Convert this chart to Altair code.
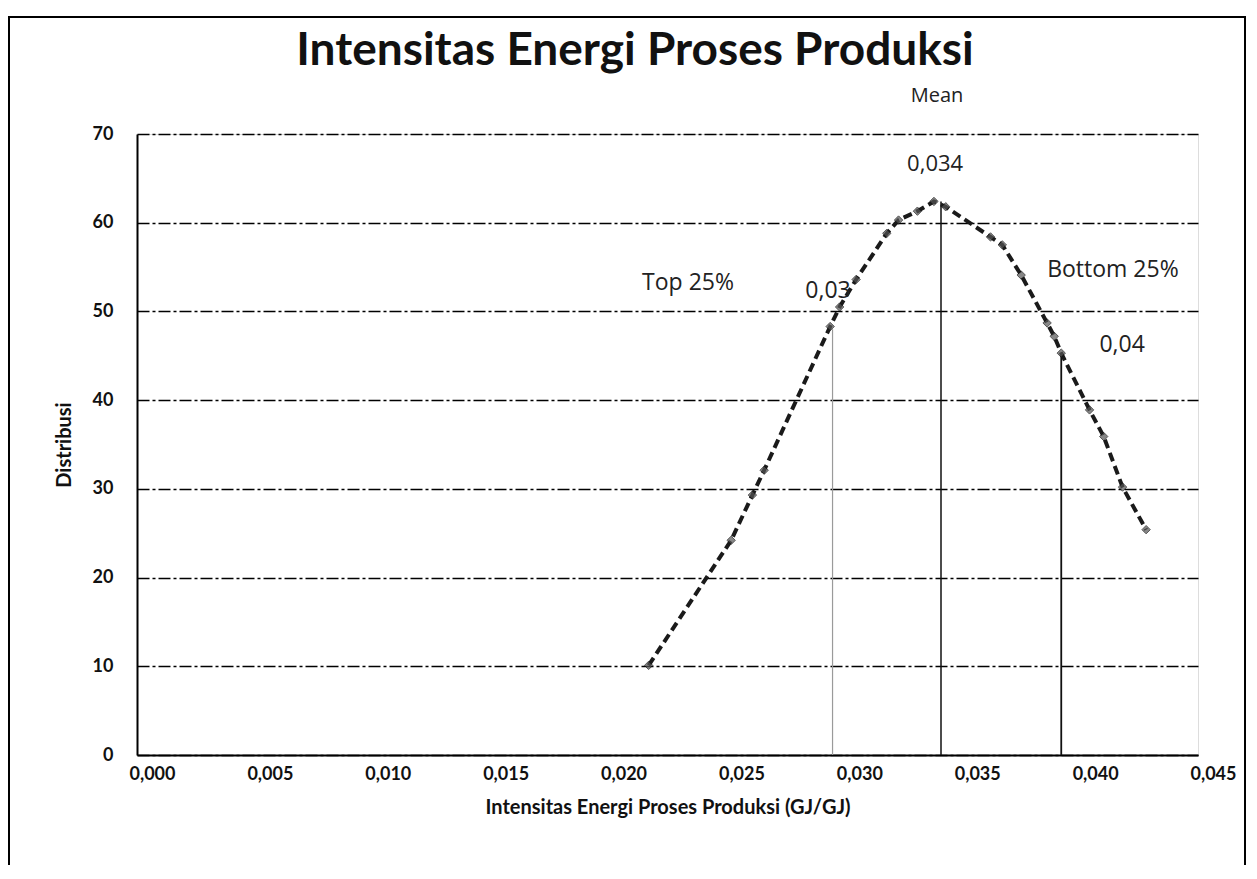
import altair as alt
import pandas as pd

# Curve data
x_vals = [0.0217, 0.0252, 0.0261, 0.0266, 0.0294, 0.0298, 0.0305, 0.0318, 0.0323,
          0.0331, 0.0338, 0.0343, 0.0362, 0.0367, 0.0375, 0.0386, 0.0389, 0.0392,
          0.0404, 0.0410, 0.0418, 0.0428]
y_vals = [10.1, 24.2, 29.3, 32.1, 48.3, 50.5, 53.6, 58.8, 60.3,
          61.3, 62.4, 61.8, 58.4, 57.5, 54.1, 48.7, 47.2, 45.3,
          38.9, 35.9, 30.2, 25.4]

# Drop lines (Top 25%, Mean, Bottom 25%)
drop_x = [0.0295, 0.0341, 0.0392]
drop_top = [48.0, 62.4, 45.3]
drop_kind = ["q1", "mean", "q3"]

# Annotations
ann_text = ["Mean", "0,034", "Top 25%", "0,03", "Bottom 25%", "0,04"]
ann_x = [0.03393, 0.03385, 0.02337, 0.02931, 0.04139, 0.04178]
ann_y = [74.3, 66.6, 53.2, 52.3, 54.7, 46.2]
ann_size = [20, 22, 23, 23, 23, 23]

x_ticks = [0.000, 0.005, 0.010, 0.015, 0.020, 0.025, 0.030, 0.035, 0.040, 0.045]
y_ticks = [0, 10, 20, 30, 40, 50, 60, 70]

curve = pd.DataFrame({"x": x_vals, "y": y_vals})
drops = pd.DataFrame({"x": drop_x, "top": drop_top, "kind": drop_kind})
ann = pd.DataFrame({"x": ann_x, "y": ann_y, "t": ann_text, "s": ann_size})
one = pd.DataFrame({"a": [0]})

FONT = "Lato"

xscale = alt.Scale(domain=[0, 0.045], nice=False, zero=True)
yscale = alt.Scale(domain=[0, 70], nice=False)

xaxis = alt.Axis(values=x_ticks,
                 labelExpr="replace(format(datum.value, '.3f'), '.', ',')",
                 title="Intensitas Energi Proses Produksi (GJ/GJ)",
                 grid=False, ticks=False, domainColor="black", domainWidth=2,
                 labelFont=FONT, labelFontSize=18, labelFontWeight="bold",
                 labelColor="#111", labelPadding=10, labelOffset=15, labelFlush=False,
                 titleFont=FONT, titleFontSize=20, titleFontWeight="bold",
                 titleColor="#111", titlePadding=14)
yaxis = alt.Axis(values=y_ticks, title="Distribusi",
                 grid=True, gridColor="black", gridWidth=1.4, gridDash=[12, 3, 3, 3],
                 ticks=False, domainColor="black", domainWidth=2,
                 labelFont=FONT, labelFontSize=18, labelFontWeight="bold",
                 labelColor="#111", labelPadding=24,
                 titleFont=FONT, titleFontSize=20, titleFontWeight="bold",
                 titleColor="#111", titlePadding=18)

line = alt.Chart(curve).mark_line(color="#1a1a1a", strokeWidth=4, strokeDash=[9, 5]).encode(
    x=alt.X("x:Q", scale=xscale, axis=xaxis),
    y=alt.Y("y:Q", scale=yscale, axis=yaxis),
)
pts = alt.Chart(curve).mark_point(shape="diamond", size=70, filled=True,
                                  color="#555", stroke="#111", strokeWidth=1).encode(
    x=alt.X("x:Q", scale=xscale), y=alt.Y("y:Q", scale=yscale))

drop_rules = alt.Chart(drops).mark_rule().encode(
    x=alt.X("x:Q", scale=xscale),
    y=alt.Y("top:Q", scale=yscale),
    y2=alt.datum(0),
    color=alt.Color("kind:N", scale=alt.Scale(domain=["q1", "mean", "q3"],
                                               range=["#9a9a9a", "#111", "#111"]), legend=None),
    strokeWidth=alt.StrokeWidth("kind:N", scale=alt.Scale(domain=["q1", "mean", "q3"],
                                                           range=[1.2, 1.8, 1.8]), legend=None),
)

labels = alt.Chart(ann).mark_text(font="Open Sans", color="#222",
                                  align="center", baseline="middle").encode(
    x=alt.X("x:Q", scale=xscale), y=alt.Y("y:Q", scale=yscale), text="t:N",
    size=alt.Size("s:Q", scale=None, legend=None))

title = alt.Chart(one).mark_text(text="Intensitas Energi Proses Produksi", font=FONT,
                                 fontSize=46, fontWeight="bold", color="#111",
                                 align="center", baseline="alphabetic").encode(
    x=alt.value(498), y=alt.value(-69))

frame = alt.Chart(one).mark_rect(fill=None, stroke="black", strokeWidth=2).encode(
    x=alt.value(-128), x2=alt.value(1108), y=alt.value(-117), y2=alt.value(760))

chart = alt.layer(frame, drop_rules, line, pts, labels, title).properties(
    width=1061, height=621,
    autosize=alt.AutoSizeParams(type="none"),
    padding={"left": 129, "top": 126, "right": 50, "bottom": 110},
).configure_view(stroke=None).configure(background="white")

chart.save("out.html", embed_options={"renderer": "svg", "actions": False})
